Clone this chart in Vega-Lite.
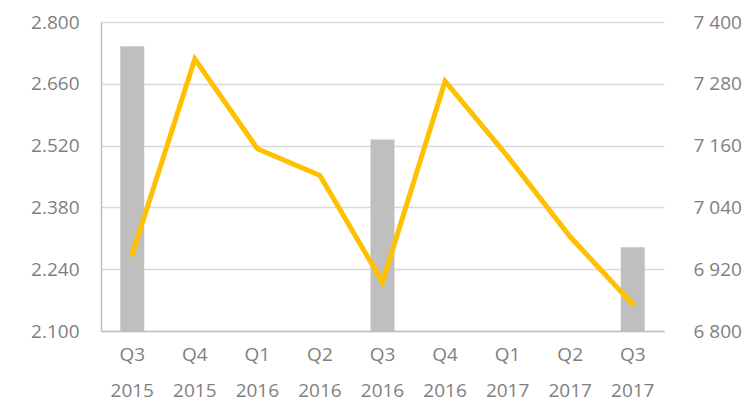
{
  "$schema": "https://vega.github.io/schema/vega-lite/v6.json",
  "autosize": {"type": "none"},
  "width": 563,
  "height": 309,
  "padding": {"left": 101, "top": 22, "right": 85, "bottom": 70},
  "background": "white",
  "config": {"view": {"stroke": null}, "font": "Open Sans"},
  "data": {"values": [
    {"q": "Q3 2015", "bar": 2.745, "line": 6949},
    {"q": "Q4 2015", "bar": null, "line": 7328},
    {"q": "Q1 2016", "bar": null, "line": 7154},
    {"q": "Q2 2016", "bar": null, "line": 7102},
    {"q": "Q3 2016", "bar": 2.534, "line": 6895},
    {"q": "Q4 2016", "bar": null, "line": 7285},
    {"q": "Q1 2017", "bar": null, "line": 7139},
    {"q": "Q2 2017", "bar": null, "line": 6983},
    {"q": "Q3 2017", "bar": 2.290, "line": 6852}
  ]},
  "encoding": {
    "x": {
      "field": "q", "type": "ordinal", "sort": null,
      "scale": {"domain": ["Q3 2015", "Q4 2015", "Q1 2016", "Q2 2016", "Q3 2016", "Q4 2016", "Q1 2017", "Q2 2017", "Q3 2017"], "paddingInner": 0.617, "paddingOuter": 0.308},
      "axis": {
        "title": null, "labelAngle": 0, "ticks": false,
        "labelExpr": "split(datum.label, ' ')",
        "labelFontSize": 19, "labelColor": "#7f7f7f", "labelFont": "Open Sans",
        "labelBaseline": "top", "labelPadding": 14, "labelLineHeight": 36,
        "domainColor": "#bfbfbf", "domainWidth": 1.5
      }
    }
  },
  "layer": [
    {
      "mark": {"type": "bar", "color": "#bfbfbf"},
      "encoding": {
        "y": {
          "field": "bar", "type": "quantitative",
          "scale": {"domain": [2.1, 2.8], "nice": false, "zero": false},
          "axis": {
            "title": null, "values": [2.1, 2.24, 2.38, 2.52, 2.66, 2.8], "format": ".3f",
            "ticks": false, "labelPadding": 22, "labelFontSize": 19, "labelColor": "#7f7f7f",
            "labelFont": "Open Sans",
            "grid": true, "gridColor": "#d9d9d9", "gridWidth": 1.5,
            "domainColor": "#bfbfbf", "domainWidth": 1.5
          }
        },
        "y2": {"datum": 2.1}
      }
    },
    {
      "mark": {"type": "line", "color": "#ffc000", "strokeWidth": 5, "strokeCap": "round", "strokeJoin": "miter"},
      "encoding": {
        "y": {
          "field": "line", "type": "quantitative",
          "scale": {"domain": [6800, 7400], "nice": false, "zero": false},
          "axis": {
            "orient": "right", "title": null, "values": [6800, 6920, 7040, 7160, 7280, 7400],
            "labelExpr": "replace(format(datum.value, ',.0f'), ',', ' ')",
            "ticks": false, "domain": false, "grid": false, "labelPadding": 29,
            "labelFontSize": 19, "labelColor": "#7f7f7f", "labelFont": "Open Sans"
          }
        }
      }
    }
  ],
  "resolve": {"scale": {"y": "independent"}}
}
